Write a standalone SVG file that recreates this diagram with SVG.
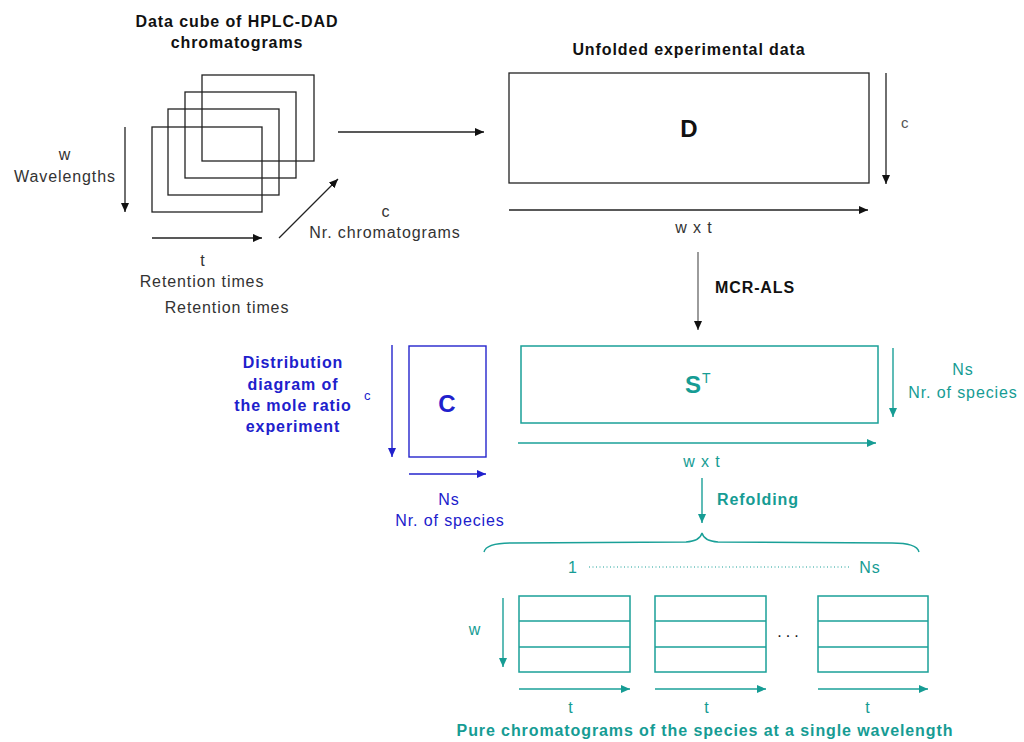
<svg xmlns="http://www.w3.org/2000/svg" width="1024" height="742" viewBox="0 0 1024 742">
<style>
text{font-family:"Liberation Sans",Arial,sans-serif;font-size:16px;letter-spacing:0.9px}
.b{font-weight:bold}
.k{fill:#111}
.g{fill:#333}
.bl{fill:#2020cc}
.tl{fill:#169c94}
.m{text-anchor:middle}
.rk{fill:none;stroke:#222;stroke-width:1.3}
.rb{fill:none;stroke:#2424cc;stroke-width:1.4}
.rt{fill:none;stroke:#1aa098;stroke-width:1.5}
.lk{stroke:#222;stroke-width:1.3;fill:none}
.lb{stroke:#2424cc;stroke-width:1.4;fill:none}
.lt{stroke:#1aa098;stroke-width:1.4;fill:none}
</style>
<defs>
<marker id="ak" markerUnits="userSpaceOnUse" markerWidth="9" markerHeight="8" refX="9" refY="4" orient="auto"><path d="M0,0 L9,4 L0,8 z" fill="#111"/></marker>
<marker id="ab" markerUnits="userSpaceOnUse" markerWidth="9" markerHeight="8" refX="9" refY="4" orient="auto"><path d="M0,0 L9,4 L0,8 z" fill="#2020cc"/></marker>
<marker id="at" markerUnits="userSpaceOnUse" markerWidth="9" markerHeight="8" refX="9" refY="4" orient="auto"><path d="M0,0 L9,4 L0,8 z" fill="#169c94"/></marker>
</defs>
<rect width="1024" height="742" fill="#fff"/>

<g id="cube">
<text class="b k m" x="237" y="27">Data cube of HPLC-DAD</text>
<text class="b k m" x="237" y="48">chromatograms</text>
<rect class="rk" x="202" y="75" width="112" height="86"/>
<rect class="rk" x="185" y="92" width="111" height="86"/>
<rect class="rk" x="168" y="109" width="111" height="86"/>
<rect class="rk" x="152" y="127" width="110" height="85"/>
<text class="g m" x="65" y="160">w</text>
<text class="g m" x="65" y="182">Wavelengths</text>
<text class="g m" x="386" y="217">c</text>
<text class="g m" x="385" y="238">Nr. chromatograms</text>
<text class="g m" x="203" y="266">t</text>
<text class="g m" x="202" y="287">Retention times</text>
<text class="g m" x="227" y="313">Retention times</text>
</g>

<g id="unfolded">
<text class="b k m" x="689" y="55">Unfolded experimental data</text>
<rect class="rk" x="509" y="73" width="360" height="110"/>
<text class="b k m" x="689" y="137" style="font-size:24px;letter-spacing:0">D</text>
<text class="g" x="901" y="128" style="font-size:15px;fill:#555">c</text>
<text class="g m" x="694" y="233">w x t</text>
<text class="b k" x="715" y="293">MCR-ALS</text>
</g>

<g id="C">
<text class="b bl m" x="293" y="368">Distribution</text>
<text class="b bl m" x="293" y="390">diagram of</text>
<text class="b bl m" x="293" y="411">the mole ratio</text>
<text class="b bl m" x="293" y="432">experiment</text>
<text class="bl" x="364" y="400" style="font-size:13px">c</text>
<rect class="rb" x="409" y="346" width="77" height="111"/>
<text class="b bl m" x="447" y="412" style="font-size:24px;letter-spacing:0">C</text>
<text class="bl m" x="449" y="505">Ns</text>
<text class="bl m" x="450" y="526">Nr. of species</text>
</g>

<g id="ST">
<rect class="rt" x="521" y="346" width="357" height="77"/>
<text class="b tl" x="685" y="393" style="font-size:24px;letter-spacing:0">S</text>
<text class="tl" x="702" y="383" style="font-size:14px;letter-spacing:0">T</text>
<text class="tl m" x="963" y="375">Ns</text>
<text class="tl m" x="963" y="398">Nr. of species</text>
<text class="tl m" x="702" y="467">w x t</text>
<text class="b tl" x="717" y="505">Refolding</text>
</g>

<g id="refolded">
<path class="lt" d="M484,552 Q486,543 512,543 L686,542 Q700,541 702,533 Q704,541 718,542 L892,543 Q917,543 919,552"/>
<text class="tl m" x="573" y="573">1</text>
<line x1="589" y1="567" x2="851" y2="567" stroke="#1aa098" stroke-width="1" stroke-dasharray="1 2.5"/>
<text class="tl m" x="870" y="573">Ns</text>
<text class="tl m" x="475" y="635">w</text>
<rect class="rt" x="519" y="596" width="111" height="76"/>
<line class="lt" x1="519" y1="621" x2="630" y2="621"/>
<line class="lt" x1="519" y1="647" x2="630" y2="647"/>
<rect class="rt" x="655" y="596" width="111" height="76"/>
<line class="lt" x1="655" y1="621" x2="766" y2="621"/>
<line class="lt" x1="655" y1="647" x2="766" y2="647"/>
<rect class="rt" x="818" y="596" width="110" height="76"/>
<line class="lt" x1="818" y1="621" x2="928" y2="621"/>
<line class="lt" x1="818" y1="647" x2="928" y2="647"/>
<text class="k m" x="790" y="637" style="letter-spacing:4px">...</text>
<text class="tl m" x="571" y="713">t</text>
<text class="tl m" x="707" y="713">t</text>
<text class="tl m" x="868" y="713">t</text>
<text class="b tl m" x="705" y="736">Pure chromatograms of the species at a single wavelength</text>
</g>

<g id="connectors">
<line class="lk" x1="125" y1="127" x2="125" y2="212" marker-end="url(#ak)"/>
<line class="lk" x1="152" y1="238" x2="262" y2="238" marker-end="url(#ak)"/>
<line class="lk" x1="279" y1="238" x2="338" y2="179" marker-end="url(#ak)"/>
<line class="lk" x1="338" y1="132" x2="484" y2="132" marker-end="url(#ak)"/>
<line class="lk" x1="886" y1="73" x2="886" y2="184" marker-end="url(#ak)"/>
<line class="lk" x1="509" y1="210" x2="868" y2="210" marker-end="url(#ak)"/>
<line x1="698" y1="252" x2="698" y2="330" stroke="#666" stroke-width="1.3" marker-end="url(#ak)"/>
<line class="lb" x1="392" y1="345" x2="392" y2="457" marker-end="url(#ab)"/>
<line class="lb" x1="409" y1="474" x2="486" y2="474" marker-end="url(#ab)"/>
<line class="lt" x1="893" y1="348" x2="893" y2="417" marker-end="url(#at)"/>
<line class="lt" x1="518" y1="443" x2="876" y2="443" marker-end="url(#at)"/>
<line class="lt" x1="702" y1="478" x2="702" y2="523" marker-end="url(#at)"/>
<line class="lt" x1="503" y1="598" x2="503" y2="667" marker-end="url(#at)"/>
<line class="lt" x1="519" y1="689" x2="630" y2="689" marker-end="url(#at)"/>
<line class="lt" x1="655" y1="689" x2="766" y2="689" marker-end="url(#at)"/>
<line class="lt" x1="818" y1="689" x2="928" y2="689" marker-end="url(#at)"/>
</g>
</svg>
